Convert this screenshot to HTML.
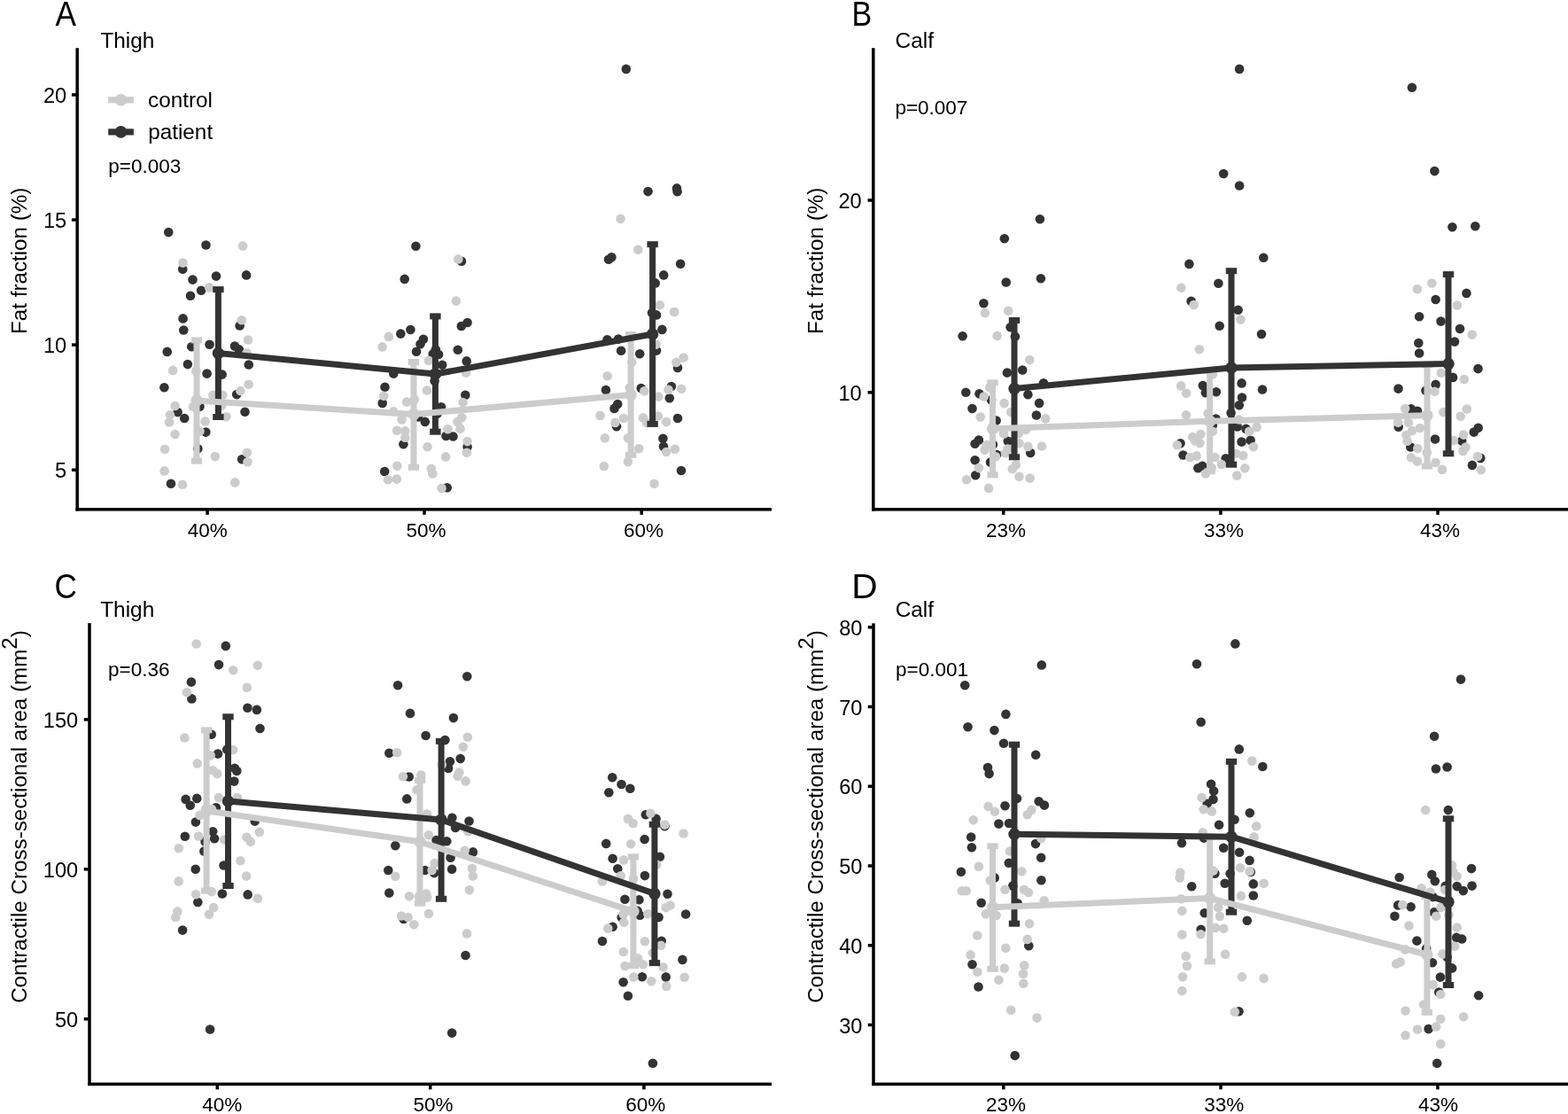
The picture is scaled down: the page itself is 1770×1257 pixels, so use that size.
<!DOCTYPE html>
<html><head><meta charset="utf-8"><title>Figure</title>
<style>
html,body{margin:0;padding:0;background:#fff;}
body{width:1770px;height:1257px;overflow:hidden;}
svg{display:block;}
text{font-family:'Liberation Sans', Arial, Helvetica, sans-serif;fill:#000;}
.xt{font-size:22.5px;text-anchor:middle;}
.yt{font-size:23.6px;text-anchor:end;}
.pl{font-size:39.5px;}
.st{font-size:24.4px;}
.pv{font-size:22.5px;}
.yl{font-size:24.2px;text-anchor:middle;}
.lg{font-size:24.3px;}
</style></head>
<body>
<svg width="1770" height="1257" viewBox="0 0 1770 1257">
<rect width="1770" height="1257" fill="#fff"/>
<g id="panelA">
<circle cx="190.25" cy="262.1" r="5.3" fill="#333333"/>
<circle cx="232.5" cy="276.5" r="5.3" fill="#333333"/>
<circle cx="206.25" cy="303.75" r="5.3" fill="#333333"/>
<circle cx="217.5" cy="315.6" r="5.3" fill="#333333"/>
<circle cx="244.0" cy="311.6" r="5.3" fill="#333333"/>
<circle cx="278.1" cy="310.4" r="5.3" fill="#333333"/>
<circle cx="227.1" cy="327.75" r="5.3" fill="#333333"/>
<circle cx="215.0" cy="333.75" r="5.3" fill="#333333"/>
<circle cx="206.6" cy="359.4" r="5.3" fill="#333333"/>
<circle cx="207.25" cy="372.5" r="5.3" fill="#333333"/>
<circle cx="270.6" cy="367.5" r="5.3" fill="#333333"/>
<circle cx="236.5" cy="388.75" r="5.3" fill="#333333"/>
<circle cx="265.0" cy="390.6" r="5.3" fill="#333333"/>
<circle cx="270.0" cy="394.4" r="5.3" fill="#333333"/>
<circle cx="188.75" cy="396.9" r="5.3" fill="#333333"/>
<circle cx="216.25" cy="391.25" r="5.3" fill="#333333"/>
<circle cx="211.9" cy="411.1" r="5.3" fill="#333333"/>
<circle cx="233.6" cy="421.6" r="5.3" fill="#333333"/>
<circle cx="250.6" cy="422.6" r="5.3" fill="#333333"/>
<circle cx="280.8" cy="411.5" r="5.3" fill="#333333"/>
<circle cx="185.4" cy="437.2" r="5.3" fill="#333333"/>
<circle cx="267.2" cy="445.1" r="5.3" fill="#333333"/>
<circle cx="225.5" cy="458.7" r="5.3" fill="#333333"/>
<circle cx="200.6" cy="465.1" r="5.3" fill="#333333"/>
<circle cx="208.2" cy="472.0" r="5.3" fill="#333333"/>
<circle cx="276.5" cy="464.8" r="5.3" fill="#333333"/>
<circle cx="232.3" cy="487.6" r="5.3" fill="#333333"/>
<circle cx="223.4" cy="506.3" r="5.3" fill="#333333"/>
<circle cx="273.1" cy="518.2" r="5.3" fill="#333333"/>
<circle cx="193.0" cy="545.7" r="5.3" fill="#333333"/>
<circle cx="469.4" cy="277.7" r="5.3" fill="#333333"/>
<circle cx="521.0" cy="294.8" r="5.3" fill="#333333"/>
<circle cx="456.7" cy="314.9" r="5.3" fill="#333333"/>
<circle cx="527.6" cy="364.0" r="5.3" fill="#333333"/>
<circle cx="520.8" cy="368.0" r="5.3" fill="#333333"/>
<circle cx="463.4" cy="372.0" r="5.3" fill="#333333"/>
<circle cx="452.3" cy="376.6" r="5.3" fill="#333333"/>
<circle cx="477.9" cy="382.8" r="5.3" fill="#333333"/>
<circle cx="474.5" cy="388.3" r="5.3" fill="#333333"/>
<circle cx="470.0" cy="396.7" r="5.3" fill="#333333"/>
<circle cx="491.8" cy="394.5" r="5.3" fill="#333333"/>
<circle cx="488.7" cy="399.4" r="5.3" fill="#333333"/>
<circle cx="495.1" cy="400.0" r="5.3" fill="#333333"/>
<circle cx="516.8" cy="394.7" r="5.3" fill="#333333"/>
<circle cx="526.7" cy="407.4" r="5.3" fill="#333333"/>
<circle cx="499.2" cy="411.7" r="5.3" fill="#333333"/>
<circle cx="444.3" cy="421.6" r="5.3" fill="#333333"/>
<circle cx="490.6" cy="429.7" r="5.3" fill="#333333"/>
<circle cx="434.5" cy="436.8" r="5.3" fill="#333333"/>
<circle cx="431.7" cy="454.9" r="5.3" fill="#333333"/>
<circle cx="525.3" cy="445.7" r="5.3" fill="#333333"/>
<circle cx="498.0" cy="459.3" r="5.3" fill="#333333"/>
<circle cx="493.6" cy="466.7" r="5.3" fill="#333333"/>
<circle cx="472.1" cy="470.4" r="5.3" fill="#333333"/>
<circle cx="479.8" cy="475.9" r="5.3" fill="#333333"/>
<circle cx="503.5" cy="491.9" r="5.3" fill="#333333"/>
<circle cx="511.5" cy="492.5" r="5.3" fill="#333333"/>
<circle cx="455.4" cy="501.2" r="5.3" fill="#333333"/>
<circle cx="527.6" cy="504.3" r="5.3" fill="#333333"/>
<circle cx="434.2" cy="532.0" r="5.3" fill="#333333"/>
<circle cx="504.7" cy="550.3" r="5.3" fill="#333333"/>
<circle cx="706.8" cy="77.9" r="5.3" fill="#333333"/>
<circle cx="731.5" cy="216.1" r="5.3" fill="#333333"/>
<circle cx="764.0" cy="212.4" r="5.3" fill="#333333"/>
<circle cx="764.6" cy="216.3" r="5.3" fill="#333333"/>
<circle cx="690.4" cy="290.3" r="5.3" fill="#333333"/>
<circle cx="687.0" cy="292.8" r="5.3" fill="#333333"/>
<circle cx="768.1" cy="297.7" r="5.3" fill="#333333"/>
<circle cx="749.2" cy="310.4" r="5.3" fill="#333333"/>
<circle cx="739.7" cy="319.4" r="5.3" fill="#333333"/>
<circle cx="736.0" cy="353.0" r="5.3" fill="#333333"/>
<circle cx="741.0" cy="355.4" r="5.3" fill="#333333"/>
<circle cx="747.4" cy="371.9" r="5.3" fill="#333333"/>
<circle cx="685.5" cy="383.2" r="5.3" fill="#333333"/>
<circle cx="698.1" cy="382.6" r="5.3" fill="#333333"/>
<circle cx="701.1" cy="395.8" r="5.3" fill="#333333"/>
<circle cx="722.2" cy="399.3" r="5.3" fill="#333333"/>
<circle cx="741.0" cy="395.6" r="5.3" fill="#333333"/>
<circle cx="765.0" cy="415.0" r="5.3" fill="#333333"/>
<circle cx="683.9" cy="440.0" r="5.3" fill="#333333"/>
<circle cx="723.7" cy="438.1" r="5.3" fill="#333333"/>
<circle cx="757.9" cy="436.0" r="5.3" fill="#333333"/>
<circle cx="755.8" cy="449.2" r="5.3" fill="#333333"/>
<circle cx="697.2" cy="456.0" r="5.3" fill="#333333"/>
<circle cx="693.5" cy="460.9" r="5.3" fill="#333333"/>
<circle cx="765.0" cy="472.0" r="5.3" fill="#333333"/>
<circle cx="696.0" cy="481.3" r="5.3" fill="#333333"/>
<circle cx="748.4" cy="494.8" r="5.3" fill="#333333"/>
<circle cx="749.0" cy="503.8" r="5.3" fill="#333333"/>
<circle cx="769.0" cy="531.0" r="5.3" fill="#333333"/>
<circle cx="274.1" cy="277.5" r="5.3" fill="#cccccc"/>
<circle cx="206.5" cy="296.6" r="5.3" fill="#cccccc"/>
<circle cx="236.25" cy="324.4" r="5.3" fill="#cccccc"/>
<circle cx="272.75" cy="361.25" r="5.3" fill="#cccccc"/>
<circle cx="280.0" cy="383.5" r="5.3" fill="#cccccc"/>
<circle cx="278.5" cy="398.2" r="5.3" fill="#cccccc"/>
<circle cx="195.2" cy="417.9" r="5.3" fill="#cccccc"/>
<circle cx="221.4" cy="418.6" r="5.3" fill="#cccccc"/>
<circle cx="280.6" cy="433.8" r="5.3" fill="#cccccc"/>
<circle cx="271.4" cy="441.0" r="5.3" fill="#cccccc"/>
<circle cx="240.4" cy="445.8" r="5.3" fill="#cccccc"/>
<circle cx="251.3" cy="445.8" r="5.3" fill="#cccccc"/>
<circle cx="218.0" cy="459.1" r="5.3" fill="#cccccc"/>
<circle cx="197.6" cy="458.0" r="5.3" fill="#cccccc"/>
<circle cx="250.0" cy="458.0" r="5.3" fill="#cccccc"/>
<circle cx="191.9" cy="468.2" r="5.3" fill="#cccccc"/>
<circle cx="191.1" cy="476.4" r="5.3" fill="#cccccc"/>
<circle cx="231.6" cy="475.4" r="5.3" fill="#cccccc"/>
<circle cx="255.4" cy="470.2" r="5.3" fill="#cccccc"/>
<circle cx="225.5" cy="486.6" r="5.3" fill="#cccccc"/>
<circle cx="197.6" cy="490.0" r="5.3" fill="#cccccc"/>
<circle cx="186.0" cy="506.7" r="5.3" fill="#cccccc"/>
<circle cx="242.8" cy="515.1" r="5.3" fill="#cccccc"/>
<circle cx="278.9" cy="510.8" r="5.3" fill="#cccccc"/>
<circle cx="279.5" cy="521.2" r="5.3" fill="#cccccc"/>
<circle cx="185.6" cy="531.4" r="5.3" fill="#cccccc"/>
<circle cx="206.0" cy="546.7" r="5.3" fill="#cccccc"/>
<circle cx="265.3" cy="544.4" r="5.3" fill="#cccccc"/>
<circle cx="517.3" cy="292.4" r="5.3" fill="#cccccc"/>
<circle cx="514.9" cy="339.6" r="5.3" fill="#cccccc"/>
<circle cx="438.8" cy="379.9" r="5.3" fill="#cccccc"/>
<circle cx="431.6" cy="391.4" r="5.3" fill="#cccccc"/>
<circle cx="483.8" cy="406.8" r="5.3" fill="#cccccc"/>
<circle cx="526.1" cy="420.4" r="5.3" fill="#cccccc"/>
<circle cx="481.9" cy="440.5" r="5.3" fill="#cccccc"/>
<circle cx="433.2" cy="446.7" r="5.3" fill="#cccccc"/>
<circle cx="459.1" cy="453.5" r="5.3" fill="#cccccc"/>
<circle cx="467.7" cy="450.6" r="5.3" fill="#cccccc"/>
<circle cx="444.1" cy="464.2" r="5.3" fill="#cccccc"/>
<circle cx="522.6" cy="454.1" r="5.3" fill="#cccccc"/>
<circle cx="453.6" cy="473.4" r="5.3" fill="#cccccc"/>
<circle cx="521.4" cy="471.0" r="5.3" fill="#cccccc"/>
<circle cx="516.5" cy="475.9" r="5.3" fill="#cccccc"/>
<circle cx="519.5" cy="483.7" r="5.3" fill="#cccccc"/>
<circle cx="448.0" cy="485.8" r="5.3" fill="#cccccc"/>
<circle cx="457.3" cy="486.4" r="5.3" fill="#cccccc"/>
<circle cx="457.3" cy="493.8" r="5.3" fill="#cccccc"/>
<circle cx="505.4" cy="484.2" r="5.3" fill="#cccccc"/>
<circle cx="527.6" cy="498.1" r="5.3" fill="#cccccc"/>
<circle cx="526.9" cy="510.7" r="5.3" fill="#cccccc"/>
<circle cx="482.5" cy="504.3" r="5.3" fill="#cccccc"/>
<circle cx="503.1" cy="515.4" r="5.3" fill="#cccccc"/>
<circle cx="448.3" cy="525.8" r="5.3" fill="#cccccc"/>
<circle cx="486.9" cy="528.9" r="5.3" fill="#cccccc"/>
<circle cx="488.3" cy="534.5" r="5.3" fill="#cccccc"/>
<circle cx="437.9" cy="541.3" r="5.3" fill="#cccccc"/>
<circle cx="447.8" cy="540.6" r="5.3" fill="#cccccc"/>
<circle cx="498.6" cy="550.9" r="5.3" fill="#cccccc"/>
<circle cx="700.5" cy="246.9" r="5.3" fill="#cccccc"/>
<circle cx="720.3" cy="281.8" r="5.3" fill="#cccccc"/>
<circle cx="744.9" cy="344.3" r="5.3" fill="#cccccc"/>
<circle cx="761.1" cy="352.1" r="5.3" fill="#cccccc"/>
<circle cx="740.4" cy="388.8" r="5.3" fill="#cccccc"/>
<circle cx="771.6" cy="403.6" r="5.3" fill="#cccccc"/>
<circle cx="763.4" cy="408.9" r="5.3" fill="#cccccc"/>
<circle cx="713.2" cy="408.5" r="5.3" fill="#cccccc"/>
<circle cx="685.7" cy="424.3" r="5.3" fill="#cccccc"/>
<circle cx="710.8" cy="437.5" r="5.3" fill="#cccccc"/>
<circle cx="727.4" cy="441.2" r="5.3" fill="#cccccc"/>
<circle cx="754.5" cy="439.7" r="5.3" fill="#cccccc"/>
<circle cx="769.1" cy="438.7" r="5.3" fill="#cccccc"/>
<circle cx="743.2" cy="447.6" r="5.3" fill="#cccccc"/>
<circle cx="677.5" cy="468.9" r="5.3" fill="#cccccc"/>
<circle cx="704.0" cy="472.0" r="5.3" fill="#cccccc"/>
<circle cx="694.4" cy="476.9" r="5.3" fill="#cccccc"/>
<circle cx="725.9" cy="471.4" r="5.3" fill="#cccccc"/>
<circle cx="729.9" cy="476.9" r="5.3" fill="#cccccc"/>
<circle cx="742.8" cy="469.5" r="5.3" fill="#cccccc"/>
<circle cx="752.1" cy="476.1" r="5.3" fill="#cccccc"/>
<circle cx="682.8" cy="494.2" r="5.3" fill="#cccccc"/>
<circle cx="708.9" cy="494.2" r="5.3" fill="#cccccc"/>
<circle cx="752.1" cy="510.0" r="5.3" fill="#cccccc"/>
<circle cx="761.9" cy="506.7" r="5.3" fill="#cccccc"/>
<circle cx="721.2" cy="506.3" r="5.3" fill="#cccccc"/>
<circle cx="708.9" cy="521.1" r="5.3" fill="#cccccc"/>
<circle cx="681.8" cy="526.0" r="5.3" fill="#cccccc"/>
<circle cx="738.5" cy="545.8" r="5.3" fill="#cccccc"/>
<rect x="242.90" y="326.60" width="7.0" height="143.90" fill="#333333"/>
<rect x="240.20" y="323.10" width="12.4" height="7.0" fill="#333333"/>
<rect x="240.20" y="467.00" width="12.4" height="7.0" fill="#333333"/>
<rect x="487.90" y="356.90" width="7.0" height="130.30" fill="#333333"/>
<rect x="485.20" y="353.40" width="12.4" height="7.0" fill="#333333"/>
<rect x="485.20" y="483.70" width="12.4" height="7.0" fill="#333333"/>
<rect x="733.10" y="275.70" width="7.0" height="202.70" fill="#333333"/>
<rect x="730.40" y="272.20" width="12.4" height="7.0" fill="#333333"/>
<rect x="730.40" y="474.90" width="12.4" height="7.0" fill="#333333"/>
<rect x="218.50" y="383.90" width="7.0" height="136.30" fill="#cccccc"/>
<rect x="215.80" y="380.40" width="12.4" height="7.0" fill="#cccccc"/>
<rect x="215.80" y="516.70" width="12.4" height="7.0" fill="#cccccc"/>
<rect x="463.50" y="408.50" width="7.0" height="118.80" fill="#cccccc"/>
<rect x="460.80" y="405.00" width="12.4" height="7.0" fill="#cccccc"/>
<rect x="460.80" y="523.80" width="12.4" height="7.0" fill="#cccccc"/>
<rect x="708.60" y="377.50" width="7.0" height="135.80" fill="#cccccc"/>
<rect x="705.90" y="374.00" width="12.4" height="7.0" fill="#cccccc"/>
<rect x="705.90" y="509.80" width="12.4" height="7.0" fill="#cccccc"/>
<polyline points="246.4,398.6 491.4,422.0 736.6,377.0" fill="none" stroke="#333333" stroke-width="7.0" stroke-linejoin="round"/>
<polyline points="222.0,452.0 467.0,467.6 712.1,445.4" fill="none" stroke="#cccccc" stroke-width="7.0" stroke-linejoin="round"/>
<circle cx="246.4" cy="398.6" r="6.7" fill="#333333"/>
<circle cx="491.4" cy="422.0" r="6.7" fill="#333333"/>
<circle cx="736.6" cy="377.0" r="6.7" fill="#333333"/>
<circle cx="222.0" cy="452.0" r="6.7" fill="#cccccc"/>
<circle cx="467.0" cy="467.6" r="6.7" fill="#cccccc"/>
<circle cx="712.1" cy="445.4" r="6.7" fill="#cccccc"/>
<rect x="85.45" y="54.2" width="3.5" height="522.35" fill="#000"/>
<rect x="85.45" y="573.05" width="785.55" height="3.5" fill="#000"/>
<rect x="232.35" y="574.80" width="3.5" height="6" fill="#000"/>
<text x="234.2" y="605.8" class="xt">40%</text>
<rect x="477.25" y="574.80" width="3.5" height="6" fill="#000"/>
<text x="481.1" y="605.8" class="xt">50%</text>
<rect x="722.45" y="574.80" width="3.5" height="6" fill="#000"/>
<text x="726.5" y="605.8" class="xt">60%</text>
<rect x="80.95" y="105.25" width="5" height="3.5" fill="#000"/>
<text x="75.2" y="116.0" class="yt">20</text>
<rect x="80.95" y="246.35" width="5" height="3.5" fill="#000"/>
<text x="75.2" y="257.1" class="yt">15</text>
<rect x="80.95" y="387.35" width="5" height="3.5" fill="#000"/>
<text x="75.2" y="398.1" class="yt">10</text>
<rect x="80.95" y="528.55" width="5" height="3.5" fill="#000"/>
<text x="75.2" y="539.3" class="yt">5</text>
</g>
<g id="panelB">
<circle cx="1173.9" cy="247.3" r="5.3" fill="#333333"/>
<circle cx="1133.8" cy="269.2" r="5.3" fill="#333333"/>
<circle cx="1135.7" cy="318.5" r="5.3" fill="#333333"/>
<circle cx="1174.9" cy="314.2" r="5.3" fill="#333333"/>
<circle cx="1110.4" cy="342.2" r="5.3" fill="#333333"/>
<circle cx="1140.6" cy="369.3" r="5.3" fill="#333333"/>
<circle cx="1145.9" cy="379.8" r="5.3" fill="#333333"/>
<circle cx="1086.6" cy="379.2" r="5.3" fill="#333333"/>
<circle cx="1136.9" cy="420.6" r="5.3" fill="#333333"/>
<circle cx="1154.2" cy="417.5" r="5.3" fill="#333333"/>
<circle cx="1178.0" cy="432.3" r="5.3" fill="#333333"/>
<circle cx="1090.3" cy="442.8" r="5.3" fill="#333333"/>
<circle cx="1105.5" cy="444.3" r="5.3" fill="#333333"/>
<circle cx="1119.0" cy="451.2" r="5.3" fill="#333333"/>
<circle cx="1160.4" cy="445.3" r="5.3" fill="#333333"/>
<circle cx="1173.1" cy="454.9" r="5.3" fill="#333333"/>
<circle cx="1097.5" cy="461.0" r="5.3" fill="#333333"/>
<circle cx="1169.9" cy="468.5" r="5.3" fill="#333333"/>
<circle cx="1124.6" cy="474.6" r="5.3" fill="#333333"/>
<circle cx="1104.9" cy="496.5" r="5.3" fill="#333333"/>
<circle cx="1100.6" cy="500.8" r="5.3" fill="#333333"/>
<circle cx="1137.8" cy="497.7" r="5.3" fill="#333333"/>
<circle cx="1120.9" cy="501.6" r="5.3" fill="#333333"/>
<circle cx="1163.2" cy="511.0" r="5.3" fill="#333333"/>
<circle cx="1125.2" cy="513.1" r="5.3" fill="#333333"/>
<circle cx="1100.6" cy="519.3" r="5.3" fill="#333333"/>
<circle cx="1118.0" cy="521.6" r="5.3" fill="#333333"/>
<circle cx="1101.2" cy="536.3" r="5.3" fill="#333333"/>
<circle cx="1399.1" cy="77.9" r="5.3" fill="#333333"/>
<circle cx="1381.2" cy="196.0" r="5.3" fill="#333333"/>
<circle cx="1399.1" cy="209.5" r="5.3" fill="#333333"/>
<circle cx="1342.4" cy="297.9" r="5.3" fill="#333333"/>
<circle cx="1426.3" cy="290.8" r="5.3" fill="#333333"/>
<circle cx="1375.4" cy="319.7" r="5.3" fill="#333333"/>
<circle cx="1344.6" cy="339.8" r="5.3" fill="#333333"/>
<circle cx="1397.6" cy="349.7" r="5.3" fill="#333333"/>
<circle cx="1376.7" cy="367.7" r="5.3" fill="#333333"/>
<circle cx="1424.0" cy="377.0" r="5.3" fill="#333333"/>
<circle cx="1357.8" cy="435.1" r="5.3" fill="#333333"/>
<circle cx="1360.9" cy="443.2" r="5.3" fill="#333333"/>
<circle cx="1372.9" cy="442.3" r="5.3" fill="#333333"/>
<circle cx="1401.6" cy="432.4" r="5.3" fill="#333333"/>
<circle cx="1425.0" cy="439.5" r="5.3" fill="#333333"/>
<circle cx="1402.0" cy="448.5" r="5.3" fill="#333333"/>
<circle cx="1398.8" cy="457.3" r="5.3" fill="#333333"/>
<circle cx="1389.6" cy="465.9" r="5.3" fill="#333333"/>
<circle cx="1372.5" cy="472.5" r="5.3" fill="#333333"/>
<circle cx="1368.9" cy="479.8" r="5.3" fill="#333333"/>
<circle cx="1396.7" cy="481.4" r="5.3" fill="#333333"/>
<circle cx="1406.5" cy="483.9" r="5.3" fill="#333333"/>
<circle cx="1332.5" cy="500.2" r="5.3" fill="#333333"/>
<circle cx="1401.6" cy="498.6" r="5.3" fill="#333333"/>
<circle cx="1411.6" cy="496.8" r="5.3" fill="#333333"/>
<circle cx="1335.6" cy="513.5" r="5.3" fill="#333333"/>
<circle cx="1383.7" cy="517.2" r="5.3" fill="#333333"/>
<circle cx="1352.3" cy="528.3" r="5.3" fill="#333333"/>
<circle cx="1357.2" cy="525.8" r="5.3" fill="#333333"/>
<circle cx="1593.9" cy="98.8" r="5.3" fill="#333333"/>
<circle cx="1619.4" cy="193.1" r="5.3" fill="#333333"/>
<circle cx="1639.4" cy="256.2" r="5.3" fill="#333333"/>
<circle cx="1665.3" cy="255.3" r="5.3" fill="#333333"/>
<circle cx="1655.4" cy="330.9" r="5.3" fill="#333333"/>
<circle cx="1620.6" cy="338.0" r="5.3" fill="#333333"/>
<circle cx="1602.1" cy="357.3" r="5.3" fill="#333333"/>
<circle cx="1626.5" cy="362.6" r="5.3" fill="#333333"/>
<circle cx="1648.0" cy="371.0" r="5.3" fill="#333333"/>
<circle cx="1601.3" cy="387.1" r="5.3" fill="#333333"/>
<circle cx="1642.0" cy="385.6" r="5.3" fill="#333333"/>
<circle cx="1602.1" cy="398.5" r="5.3" fill="#333333"/>
<circle cx="1668.5" cy="416.1" r="5.3" fill="#333333"/>
<circle cx="1640.1" cy="425.9" r="5.3" fill="#333333"/>
<circle cx="1620.6" cy="433.9" r="5.3" fill="#333333"/>
<circle cx="1578.5" cy="438.6" r="5.3" fill="#333333"/>
<circle cx="1609.5" cy="440.7" r="5.3" fill="#333333"/>
<circle cx="1592.9" cy="461.4" r="5.3" fill="#333333"/>
<circle cx="1600.0" cy="463.8" r="5.3" fill="#333333"/>
<circle cx="1578.7" cy="481.7" r="5.3" fill="#333333"/>
<circle cx="1668.7" cy="482.7" r="5.3" fill="#333333"/>
<circle cx="1663.8" cy="487.6" r="5.3" fill="#333333"/>
<circle cx="1620.0" cy="495.5" r="5.3" fill="#333333"/>
<circle cx="1650.2" cy="497.5" r="5.3" fill="#333333"/>
<circle cx="1592.3" cy="504.5" r="5.3" fill="#333333"/>
<circle cx="1671.2" cy="516.9" r="5.3" fill="#333333"/>
<circle cx="1661.9" cy="524.9" r="5.3" fill="#333333"/>
<circle cx="1111.9" cy="353.3" r="5.3" fill="#cccccc"/>
<circle cx="1138.2" cy="350.8" r="5.3" fill="#cccccc"/>
<circle cx="1125.6" cy="379.0" r="5.3" fill="#cccccc"/>
<circle cx="1162.2" cy="406.1" r="5.3" fill="#cccccc"/>
<circle cx="1117.2" cy="437.3" r="5.3" fill="#cccccc"/>
<circle cx="1110.7" cy="447.5" r="5.3" fill="#cccccc"/>
<circle cx="1133.6" cy="455.1" r="5.3" fill="#cccccc"/>
<circle cx="1141.2" cy="465.0" r="5.3" fill="#cccccc"/>
<circle cx="1106.7" cy="470.6" r="5.3" fill="#cccccc"/>
<circle cx="1180.1" cy="472.4" r="5.3" fill="#cccccc"/>
<circle cx="1133.2" cy="489.4" r="5.3" fill="#cccccc"/>
<circle cx="1149.9" cy="489.1" r="5.3" fill="#cccccc"/>
<circle cx="1158.2" cy="484.8" r="5.3" fill="#cccccc"/>
<circle cx="1150.5" cy="500.2" r="5.3" fill="#cccccc"/>
<circle cx="1160.4" cy="503.9" r="5.3" fill="#cccccc"/>
<circle cx="1176.0" cy="503.5" r="5.3" fill="#cccccc"/>
<circle cx="1114.1" cy="502.0" r="5.3" fill="#cccccc"/>
<circle cx="1111.5" cy="507.7" r="5.3" fill="#cccccc"/>
<circle cx="1135.1" cy="511.3" r="5.3" fill="#cccccc"/>
<circle cx="1137.5" cy="506.5" r="5.3" fill="#cccccc"/>
<circle cx="1124.0" cy="515.2" r="5.3" fill="#cccccc"/>
<circle cx="1104.9" cy="528.0" r="5.3" fill="#cccccc"/>
<circle cx="1146.8" cy="524.4" r="5.3" fill="#cccccc"/>
<circle cx="1142.8" cy="529.3" r="5.3" fill="#cccccc"/>
<circle cx="1091.1" cy="541.2" r="5.3" fill="#cccccc"/>
<circle cx="1150.5" cy="537.8" r="5.3" fill="#cccccc"/>
<circle cx="1162.6" cy="539.6" r="5.3" fill="#cccccc"/>
<circle cx="1116.0" cy="550.9" r="5.3" fill="#cccccc"/>
<circle cx="1333.4" cy="324.7" r="5.3" fill="#cccccc"/>
<circle cx="1347.7" cy="344.0" r="5.3" fill="#cccccc"/>
<circle cx="1400.4" cy="360.6" r="5.3" fill="#cccccc"/>
<circle cx="1353.9" cy="394.2" r="5.3" fill="#cccccc"/>
<circle cx="1368.9" cy="422.2" r="5.3" fill="#cccccc"/>
<circle cx="1333.2" cy="435.4" r="5.3" fill="#cccccc"/>
<circle cx="1339.1" cy="443.8" r="5.3" fill="#cccccc"/>
<circle cx="1339.0" cy="468.3" r="5.3" fill="#cccccc"/>
<circle cx="1363.7" cy="466.6" r="5.3" fill="#cccccc"/>
<circle cx="1398.5" cy="473.5" r="5.3" fill="#cccccc"/>
<circle cx="1418.6" cy="481.9" r="5.3" fill="#cccccc"/>
<circle cx="1410.2" cy="486.7" r="5.3" fill="#cccccc"/>
<circle cx="1368.9" cy="486.7" r="5.3" fill="#cccccc"/>
<circle cx="1346.1" cy="493.1" r="5.3" fill="#cccccc"/>
<circle cx="1355.4" cy="490.0" r="5.3" fill="#cccccc"/>
<circle cx="1354.4" cy="499.9" r="5.3" fill="#cccccc"/>
<circle cx="1349.2" cy="497.5" r="5.3" fill="#cccccc"/>
<circle cx="1328.8" cy="502.3" r="5.3" fill="#cccccc"/>
<circle cx="1414.9" cy="504.2" r="5.3" fill="#cccccc"/>
<circle cx="1343.3" cy="516.0" r="5.3" fill="#cccccc"/>
<circle cx="1350.7" cy="514.4" r="5.3" fill="#cccccc"/>
<circle cx="1371.4" cy="516.0" r="5.3" fill="#cccccc"/>
<circle cx="1395.4" cy="511.7" r="5.3" fill="#cccccc"/>
<circle cx="1403.2" cy="514.1" r="5.3" fill="#cccccc"/>
<circle cx="1378.8" cy="524.0" r="5.3" fill="#cccccc"/>
<circle cx="1367.7" cy="527.7" r="5.3" fill="#cccccc"/>
<circle cx="1360.9" cy="534.5" r="5.3" fill="#cccccc"/>
<circle cx="1405.3" cy="528.3" r="5.3" fill="#cccccc"/>
<circle cx="1396.3" cy="536.6" r="5.3" fill="#cccccc"/>
<circle cx="1616.3" cy="319.5" r="5.3" fill="#cccccc"/>
<circle cx="1599.9" cy="326.2" r="5.3" fill="#cccccc"/>
<circle cx="1644.9" cy="344.5" r="5.3" fill="#cccccc"/>
<circle cx="1661.7" cy="377.5" r="5.3" fill="#cccccc"/>
<circle cx="1626.8" cy="420.7" r="5.3" fill="#cccccc"/>
<circle cx="1652.7" cy="428.1" r="5.3" fill="#cccccc"/>
<circle cx="1619.4" cy="441.7" r="5.3" fill="#cccccc"/>
<circle cx="1586.1" cy="461.0" r="5.3" fill="#cccccc"/>
<circle cx="1655.8" cy="461.6" r="5.3" fill="#cccccc"/>
<circle cx="1629.3" cy="465.1" r="5.3" fill="#cccccc"/>
<circle cx="1648.7" cy="469.8" r="5.3" fill="#cccccc"/>
<circle cx="1578.1" cy="476.8" r="5.3" fill="#cccccc"/>
<circle cx="1589.8" cy="476.8" r="5.3" fill="#cccccc"/>
<circle cx="1602.8" cy="483.0" r="5.3" fill="#cccccc"/>
<circle cx="1594.1" cy="486.0" r="5.3" fill="#cccccc"/>
<circle cx="1587.3" cy="491.0" r="5.3" fill="#cccccc"/>
<circle cx="1588.6" cy="497.8" r="5.3" fill="#cccccc"/>
<circle cx="1652.1" cy="490.6" r="5.3" fill="#cccccc"/>
<circle cx="1641.0" cy="497.1" r="5.3" fill="#cccccc"/>
<circle cx="1654.5" cy="504.5" r="5.3" fill="#cccccc"/>
<circle cx="1651.5" cy="508.9" r="5.3" fill="#cccccc"/>
<circle cx="1600.3" cy="506.0" r="5.3" fill="#cccccc"/>
<circle cx="1610.8" cy="510.7" r="5.3" fill="#cccccc"/>
<circle cx="1592.9" cy="516.3" r="5.3" fill="#cccccc"/>
<circle cx="1600.0" cy="520.6" r="5.3" fill="#cccccc"/>
<circle cx="1620.6" cy="522.0" r="5.3" fill="#cccccc"/>
<circle cx="1628.0" cy="529.9" r="5.3" fill="#cccccc"/>
<circle cx="1668.1" cy="515.0" r="5.3" fill="#cccccc"/>
<circle cx="1671.8" cy="530.2" r="5.3" fill="#cccccc"/>
<rect x="1141.50" y="361.50" width="7.0" height="154.30" fill="#333333"/>
<rect x="1138.80" y="358.00" width="12.4" height="7.0" fill="#333333"/>
<rect x="1138.80" y="512.30" width="12.4" height="7.0" fill="#333333"/>
<rect x="1386.50" y="305.70" width="7.0" height="218.50" fill="#333333"/>
<rect x="1383.80" y="302.20" width="12.4" height="7.0" fill="#333333"/>
<rect x="1383.80" y="520.70" width="12.4" height="7.0" fill="#333333"/>
<rect x="1631.50" y="309.60" width="7.0" height="202.20" fill="#333333"/>
<rect x="1628.80" y="306.10" width="12.4" height="7.0" fill="#333333"/>
<rect x="1628.80" y="508.30" width="12.4" height="7.0" fill="#333333"/>
<rect x="1117.00" y="431.80" width="7.0" height="104.10" fill="#cccccc"/>
<rect x="1114.30" y="428.30" width="12.4" height="7.0" fill="#cccccc"/>
<rect x="1114.30" y="532.40" width="12.4" height="7.0" fill="#cccccc"/>
<rect x="1362.20" y="418.60" width="7.0" height="113.20" fill="#cccccc"/>
<rect x="1359.50" y="415.10" width="12.4" height="7.0" fill="#cccccc"/>
<rect x="1359.50" y="528.30" width="12.4" height="7.0" fill="#cccccc"/>
<rect x="1607.50" y="411.50" width="7.0" height="114.60" fill="#cccccc"/>
<rect x="1604.80" y="408.00" width="12.4" height="7.0" fill="#cccccc"/>
<rect x="1604.80" y="522.60" width="12.4" height="7.0" fill="#cccccc"/>
<polyline points="1145.0,438.6 1390.0,414.9 1635.0,410.5" fill="none" stroke="#333333" stroke-width="7.0" stroke-linejoin="round"/>
<polyline points="1120.5,483.8 1365.7,475.2 1611.0,468.8" fill="none" stroke="#cccccc" stroke-width="7.0" stroke-linejoin="round"/>
<circle cx="1145.0" cy="438.6" r="6.7" fill="#333333"/>
<circle cx="1390.0" cy="414.9" r="6.7" fill="#333333"/>
<circle cx="1635.0" cy="410.5" r="6.7" fill="#333333"/>
<circle cx="1120.5" cy="483.8" r="6.7" fill="#cccccc"/>
<circle cx="1365.7" cy="475.2" r="6.7" fill="#cccccc"/>
<circle cx="1611.0" cy="468.8" r="6.7" fill="#cccccc"/>
<rect x="984.05" y="54.2" width="3.5" height="522.35" fill="#000"/>
<rect x="984.05" y="573.05" width="785.95" height="3.5" fill="#000"/>
<rect x="1130.95" y="574.80" width="3.5" height="6" fill="#000"/>
<text x="1135.6" y="605.8" class="xt">23%</text>
<rect x="1376.15" y="574.80" width="3.5" height="6" fill="#000"/>
<text x="1381.6" y="605.8" class="xt">33%</text>
<rect x="1621.25" y="574.80" width="3.5" height="6" fill="#000"/>
<text x="1625.6" y="605.8" class="xt">43%</text>
<rect x="979.55" y="224.25" width="5" height="3.5" fill="#000"/>
<text x="972.7" y="235.0" class="yt">20</text>
<rect x="979.55" y="441.05" width="5" height="3.5" fill="#000"/>
<text x="972.7" y="451.8" class="yt">10</text>
</g>
<g id="panelC">
<circle cx="254.8" cy="728.9" r="5.3" fill="#333333"/>
<circle cx="247.0" cy="750.1" r="5.3" fill="#333333"/>
<circle cx="215.9" cy="769.6" r="5.3" fill="#333333"/>
<circle cx="216.4" cy="788.4" r="5.3" fill="#333333"/>
<circle cx="279.4" cy="798.8" r="5.3" fill="#333333"/>
<circle cx="289.9" cy="800.9" r="5.3" fill="#333333"/>
<circle cx="293.5" cy="822.0" r="5.3" fill="#333333"/>
<circle cx="238.7" cy="828.7" r="5.3" fill="#333333"/>
<circle cx="256.2" cy="845.7" r="5.3" fill="#333333"/>
<circle cx="246.0" cy="850.6" r="5.3" fill="#333333"/>
<circle cx="264.9" cy="866.8" r="5.3" fill="#333333"/>
<circle cx="267.3" cy="869.9" r="5.3" fill="#333333"/>
<circle cx="264.3" cy="881.6" r="5.3" fill="#333333"/>
<circle cx="209.6" cy="901.9" r="5.3" fill="#333333"/>
<circle cx="222.3" cy="900.9" r="5.3" fill="#333333"/>
<circle cx="214.7" cy="908.7" r="5.3" fill="#333333"/>
<circle cx="243.9" cy="911.2" r="5.3" fill="#333333"/>
<circle cx="220.9" cy="927.6" r="5.3" fill="#333333"/>
<circle cx="287.7" cy="926.6" r="5.3" fill="#333333"/>
<circle cx="240.2" cy="938.3" r="5.3" fill="#333333"/>
<circle cx="242.1" cy="946.3" r="5.3" fill="#333333"/>
<circle cx="208.8" cy="943.8" r="5.3" fill="#333333"/>
<circle cx="231.6" cy="949.4" r="5.3" fill="#333333"/>
<circle cx="230.4" cy="960.5" r="5.3" fill="#333333"/>
<circle cx="252.5" cy="976.5" r="5.3" fill="#333333"/>
<circle cx="220.7" cy="980.8" r="5.3" fill="#333333"/>
<circle cx="250.9" cy="1008.5" r="5.3" fill="#333333"/>
<circle cx="279.7" cy="1009.4" r="5.3" fill="#333333"/>
<circle cx="223.3" cy="1018.0" r="5.3" fill="#333333"/>
<circle cx="206.1" cy="1049.6" r="5.3" fill="#333333"/>
<circle cx="237.1" cy="1161.5" r="5.3" fill="#333333"/>
<circle cx="527.3" cy="763.3" r="5.3" fill="#333333"/>
<circle cx="449.1" cy="773.2" r="5.3" fill="#333333"/>
<circle cx="463.0" cy="804.9" r="5.3" fill="#333333"/>
<circle cx="511.9" cy="810.1" r="5.3" fill="#333333"/>
<circle cx="480.6" cy="830.0" r="5.3" fill="#333333"/>
<circle cx="502.4" cy="835.1" r="5.3" fill="#333333"/>
<circle cx="439.3" cy="849.7" r="5.3" fill="#333333"/>
<circle cx="519.7" cy="856.1" r="5.3" fill="#333333"/>
<circle cx="508.0" cy="859.2" r="5.3" fill="#333333"/>
<circle cx="506.1" cy="867.0" r="5.3" fill="#333333"/>
<circle cx="461.7" cy="876.5" r="5.3" fill="#333333"/>
<circle cx="459.3" cy="901.4" r="5.3" fill="#333333"/>
<circle cx="510.4" cy="922.8" r="5.3" fill="#333333"/>
<circle cx="529.5" cy="926.5" r="5.3" fill="#333333"/>
<circle cx="514.1" cy="933.9" r="5.3" fill="#333333"/>
<circle cx="492.5" cy="948.1" r="5.3" fill="#333333"/>
<circle cx="504.3" cy="949.3" r="5.3" fill="#333333"/>
<circle cx="446.3" cy="954.3" r="5.3" fill="#333333"/>
<circle cx="533.9" cy="961.4" r="5.3" fill="#333333"/>
<circle cx="508.6" cy="967.8" r="5.3" fill="#333333"/>
<circle cx="438.3" cy="982.0" r="5.3" fill="#333333"/>
<circle cx="479.6" cy="982.0" r="5.3" fill="#333333"/>
<circle cx="490.1" cy="985.1" r="5.3" fill="#333333"/>
<circle cx="510.1" cy="980.8" r="5.3" fill="#333333"/>
<circle cx="439.3" cy="1007.6" r="5.3" fill="#333333"/>
<circle cx="455.6" cy="1036.9" r="5.3" fill="#333333"/>
<circle cx="525.5" cy="1078.0" r="5.3" fill="#333333"/>
<circle cx="510.2" cy="1165.6" r="5.3" fill="#333333"/>
<circle cx="691.2" cy="877.3" r="5.3" fill="#333333"/>
<circle cx="701.5" cy="885.0" r="5.3" fill="#333333"/>
<circle cx="711.3" cy="889.7" r="5.3" fill="#333333"/>
<circle cx="687.3" cy="894.3" r="5.3" fill="#333333"/>
<circle cx="728.8" cy="919.3" r="5.3" fill="#333333"/>
<circle cx="740.6" cy="923.9" r="5.3" fill="#333333"/>
<circle cx="750.4" cy="932.2" r="5.3" fill="#333333"/>
<circle cx="684.2" cy="951.9" r="5.3" fill="#333333"/>
<circle cx="727.6" cy="947.0" r="5.3" fill="#333333"/>
<circle cx="691.6" cy="968.8" r="5.3" fill="#333333"/>
<circle cx="744.9" cy="966.7" r="5.3" fill="#333333"/>
<circle cx="697.2" cy="980.3" r="5.3" fill="#333333"/>
<circle cx="727.9" cy="988.1" r="5.3" fill="#333333"/>
<circle cx="753.5" cy="1008.7" r="5.3" fill="#333333"/>
<circle cx="705.4" cy="1014.8" r="5.3" fill="#333333"/>
<circle cx="721.4" cy="1015.3" r="5.3" fill="#333333"/>
<circle cx="719.6" cy="1027.8" r="5.3" fill="#333333"/>
<circle cx="722.4" cy="1032.7" r="5.3" fill="#333333"/>
<circle cx="701.7" cy="1035.2" r="5.3" fill="#333333"/>
<circle cx="691.6" cy="1045.7" r="5.3" fill="#333333"/>
<circle cx="743.6" cy="1035.0" r="5.3" fill="#333333"/>
<circle cx="774.1" cy="1031.5" r="5.3" fill="#333333"/>
<circle cx="679.9" cy="1062.0" r="5.3" fill="#333333"/>
<circle cx="746.7" cy="1061.7" r="5.3" fill="#333333"/>
<circle cx="770.4" cy="1082.9" r="5.3" fill="#333333"/>
<circle cx="724.9" cy="1102.2" r="5.3" fill="#333333"/>
<circle cx="751.7" cy="1102.4" r="5.3" fill="#333333"/>
<circle cx="703.6" cy="1108.2" r="5.3" fill="#333333"/>
<circle cx="708.9" cy="1123.7" r="5.3" fill="#333333"/>
<circle cx="736.9" cy="1199.7" r="5.3" fill="#333333"/>
<circle cx="221.7" cy="726.5" r="5.3" fill="#cccccc"/>
<circle cx="263.3" cy="756.3" r="5.3" fill="#cccccc"/>
<circle cx="290.8" cy="750.8" r="5.3" fill="#cccccc"/>
<circle cx="210.9" cy="781.2" r="5.3" fill="#cccccc"/>
<circle cx="278.8" cy="775.8" r="5.3" fill="#cccccc"/>
<circle cx="208.4" cy="832.5" r="5.3" fill="#cccccc"/>
<circle cx="263.0" cy="846.0" r="5.3" fill="#cccccc"/>
<circle cx="237.7" cy="852.5" r="5.3" fill="#cccccc"/>
<circle cx="222.7" cy="861.4" r="5.3" fill="#cccccc"/>
<circle cx="240.2" cy="869.2" r="5.3" fill="#cccccc"/>
<circle cx="245.1" cy="872.9" r="5.3" fill="#cccccc"/>
<circle cx="247.0" cy="900.1" r="5.3" fill="#cccccc"/>
<circle cx="268.0" cy="900.1" r="5.3" fill="#cccccc"/>
<circle cx="232.2" cy="913.0" r="5.3" fill="#cccccc"/>
<circle cx="239.0" cy="913.0" r="5.3" fill="#cccccc"/>
<circle cx="225.4" cy="920.0" r="5.3" fill="#cccccc"/>
<circle cx="292.9" cy="938.9" r="5.3" fill="#cccccc"/>
<circle cx="278.4" cy="944.8" r="5.3" fill="#cccccc"/>
<circle cx="282.8" cy="949.8" r="5.3" fill="#cccccc"/>
<circle cx="224.2" cy="943.5" r="5.3" fill="#cccccc"/>
<circle cx="253.2" cy="947.5" r="5.3" fill="#cccccc"/>
<circle cx="201.7" cy="957.2" r="5.3" fill="#cccccc"/>
<circle cx="271.4" cy="971.3" r="5.3" fill="#cccccc"/>
<circle cx="278.1" cy="988.6" r="5.3" fill="#cccccc"/>
<circle cx="201.6" cy="994.4" r="5.3" fill="#cccccc"/>
<circle cx="238.7" cy="1006.0" r="5.3" fill="#cccccc"/>
<circle cx="221.1" cy="1009.2" r="5.3" fill="#cccccc"/>
<circle cx="291.0" cy="1013.7" r="5.3" fill="#cccccc"/>
<circle cx="241.1" cy="1024.1" r="5.3" fill="#cccccc"/>
<circle cx="235.9" cy="1031.8" r="5.3" fill="#cccccc"/>
<circle cx="200.4" cy="1028.4" r="5.3" fill="#cccccc"/>
<circle cx="198.3" cy="1035.0" r="5.3" fill="#cccccc"/>
<circle cx="527.9" cy="831.7" r="5.3" fill="#cccccc"/>
<circle cx="522.8" cy="842.8" r="5.3" fill="#cccccc"/>
<circle cx="448.2" cy="849.3" r="5.3" fill="#cccccc"/>
<circle cx="498.7" cy="862.9" r="5.3" fill="#cccccc"/>
<circle cx="454.9" cy="876.2" r="5.3" fill="#cccccc"/>
<circle cx="475.3" cy="874.6" r="5.3" fill="#cccccc"/>
<circle cx="518.4" cy="871.5" r="5.3" fill="#cccccc"/>
<circle cx="516.6" cy="875.8" r="5.3" fill="#cccccc"/>
<circle cx="525.6" cy="881.4" r="5.3" fill="#cccccc"/>
<circle cx="470.4" cy="891.3" r="5.3" fill="#cccccc"/>
<circle cx="482.1" cy="918.5" r="5.3" fill="#cccccc"/>
<circle cx="528.3" cy="938.2" r="5.3" fill="#cccccc"/>
<circle cx="483.9" cy="942.3" r="5.3" fill="#cccccc"/>
<circle cx="524.6" cy="959.8" r="5.3" fill="#cccccc"/>
<circle cx="490.7" cy="974.0" r="5.3" fill="#cccccc"/>
<circle cx="487.6" cy="982.0" r="5.3" fill="#cccccc"/>
<circle cx="532.9" cy="979.9" r="5.3" fill="#cccccc"/>
<circle cx="533.9" cy="988.5" r="5.3" fill="#cccccc"/>
<circle cx="446.3" cy="988.8" r="5.3" fill="#cccccc"/>
<circle cx="529.8" cy="1004.2" r="5.3" fill="#cccccc"/>
<circle cx="462.0" cy="1011.3" r="5.3" fill="#cccccc"/>
<circle cx="481.2" cy="1008.5" r="5.3" fill="#cccccc"/>
<circle cx="482.1" cy="1012.8" r="5.3" fill="#cccccc"/>
<circle cx="472.8" cy="1011.6" r="5.3" fill="#cccccc"/>
<circle cx="483.9" cy="1031.0" r="5.3" fill="#cccccc"/>
<circle cx="453.1" cy="1033.5" r="5.3" fill="#cccccc"/>
<circle cx="460.5" cy="1035.0" r="5.3" fill="#cccccc"/>
<circle cx="467.3" cy="1043.3" r="5.3" fill="#cccccc"/>
<circle cx="527.0" cy="1053.4" r="5.3" fill="#cccccc"/>
<circle cx="734.4" cy="917.8" r="5.3" fill="#cccccc"/>
<circle cx="708.9" cy="923.9" r="5.3" fill="#cccccc"/>
<circle cx="714.7" cy="929.1" r="5.3" fill="#cccccc"/>
<circle cx="750.4" cy="930.6" r="5.3" fill="#cccccc"/>
<circle cx="771.6" cy="940.5" r="5.3" fill="#cccccc"/>
<circle cx="712.2" cy="952.3" r="5.3" fill="#cccccc"/>
<circle cx="703.9" cy="970.4" r="5.3" fill="#cccccc"/>
<circle cx="741.2" cy="975.4" r="5.3" fill="#cccccc"/>
<circle cx="700.7" cy="988.3" r="5.3" fill="#cccccc"/>
<circle cx="715.0" cy="991.4" r="5.3" fill="#cccccc"/>
<circle cx="679.9" cy="994.5" r="5.3" fill="#cccccc"/>
<circle cx="756.6" cy="1021.6" r="5.3" fill="#cccccc"/>
<circle cx="751.7" cy="1024.1" r="5.3" fill="#cccccc"/>
<circle cx="731.3" cy="1031.3" r="5.3" fill="#cccccc"/>
<circle cx="703.6" cy="1031.5" r="5.3" fill="#cccccc"/>
<circle cx="704.2" cy="1040.8" r="5.3" fill="#cccccc"/>
<circle cx="686.3" cy="1047.5" r="5.3" fill="#cccccc"/>
<circle cx="727.9" cy="1062.3" r="5.3" fill="#cccccc"/>
<circle cx="746.1" cy="1066.7" r="5.3" fill="#cccccc"/>
<circle cx="736.9" cy="1075.3" r="5.3" fill="#cccccc"/>
<circle cx="703.8" cy="1074.0" r="5.3" fill="#cccccc"/>
<circle cx="720.2" cy="1081.4" r="5.3" fill="#cccccc"/>
<circle cx="725.8" cy="1088.2" r="5.3" fill="#cccccc"/>
<circle cx="705.4" cy="1090.1" r="5.3" fill="#cccccc"/>
<circle cx="748.6" cy="1091.3" r="5.3" fill="#cccccc"/>
<circle cx="715.3" cy="1102.4" r="5.3" fill="#cccccc"/>
<circle cx="735.3" cy="1107.3" r="5.3" fill="#cccccc"/>
<circle cx="772.6" cy="1102.8" r="5.3" fill="#cccccc"/>
<circle cx="752.3" cy="1112.9" r="5.3" fill="#cccccc"/>
<rect x="254.00" y="808.80" width="7.0" height="190.70" fill="#333333"/>
<rect x="251.30" y="805.30" width="12.4" height="7.0" fill="#333333"/>
<rect x="251.30" y="996.00" width="12.4" height="7.0" fill="#333333"/>
<rect x="494.60" y="836.40" width="7.0" height="177.90" fill="#333333"/>
<rect x="491.90" y="832.90" width="12.4" height="7.0" fill="#333333"/>
<rect x="491.90" y="1010.80" width="12.4" height="7.0" fill="#333333"/>
<rect x="735.40" y="930.20" width="7.0" height="156.40" fill="#333333"/>
<rect x="732.70" y="926.70" width="12.4" height="7.0" fill="#333333"/>
<rect x="732.70" y="1083.10" width="12.4" height="7.0" fill="#333333"/>
<rect x="229.60" y="823.90" width="7.0" height="181.20" fill="#cccccc"/>
<rect x="226.90" y="820.40" width="12.4" height="7.0" fill="#cccccc"/>
<rect x="226.90" y="1001.60" width="12.4" height="7.0" fill="#cccccc"/>
<rect x="470.50" y="880.50" width="7.0" height="138.70" fill="#cccccc"/>
<rect x="467.80" y="877.00" width="12.4" height="7.0" fill="#cccccc"/>
<rect x="467.80" y="1015.70" width="12.4" height="7.0" fill="#cccccc"/>
<rect x="711.40" y="966.80" width="7.0" height="122.90" fill="#cccccc"/>
<rect x="708.70" y="963.30" width="12.4" height="7.0" fill="#cccccc"/>
<rect x="708.70" y="1086.20" width="12.4" height="7.0" fill="#cccccc"/>
<polyline points="257.5,904.1 498.1,925.0 738.9,1008.4" fill="none" stroke="#333333" stroke-width="7.0" stroke-linejoin="round"/>
<polyline points="233.1,915.0 474.0,949.8 714.9,1028.3" fill="none" stroke="#cccccc" stroke-width="7.0" stroke-linejoin="round"/>
<circle cx="257.5" cy="904.1" r="6.7" fill="#333333"/>
<circle cx="498.1" cy="925.0" r="6.7" fill="#333333"/>
<circle cx="738.9" cy="1008.4" r="6.7" fill="#333333"/>
<circle cx="233.1" cy="915.0" r="6.7" fill="#cccccc"/>
<circle cx="474.0" cy="949.8" r="6.7" fill="#cccccc"/>
<circle cx="714.9" cy="1028.3" r="6.7" fill="#cccccc"/>
<rect x="99.25" y="703.1" width="3.5" height="521.95" fill="#000"/>
<rect x="99.25" y="1221.55" width="771.75" height="3.5" fill="#000"/>
<rect x="243.55" y="1223.30" width="3.5" height="6" fill="#000"/>
<text x="250.7" y="1254.3" class="xt">40%</text>
<rect x="483.95" y="1223.30" width="3.5" height="6" fill="#000"/>
<text x="488.9" y="1254.3" class="xt">50%</text>
<rect x="725.15" y="1223.30" width="3.5" height="6" fill="#000"/>
<text x="728.8" y="1254.3" class="xt">60%</text>
<rect x="94.75" y="810.15" width="5" height="3.5" fill="#000"/>
<text x="88.2" y="820.9" class="yt">150</text>
<rect x="94.75" y="979.05" width="5" height="3.5" fill="#000"/>
<text x="88.2" y="989.8" class="yt">100</text>
<rect x="94.75" y="1148.05" width="5" height="3.5" fill="#000"/>
<text x="88.2" y="1158.8" class="yt">50</text>
</g>
<g id="panelD">
<circle cx="1175.8" cy="750.4" r="5.3" fill="#333333"/>
<circle cx="1089.2" cy="773.2" r="5.3" fill="#333333"/>
<circle cx="1135.4" cy="805.9" r="5.3" fill="#333333"/>
<circle cx="1092.5" cy="820.3" r="5.3" fill="#333333"/>
<circle cx="1122.4" cy="824.1" r="5.3" fill="#333333"/>
<circle cx="1133.0" cy="838.8" r="5.3" fill="#333333"/>
<circle cx="1169.2" cy="851.8" r="5.3" fill="#333333"/>
<circle cx="1115.0" cy="866.1" r="5.3" fill="#333333"/>
<circle cx="1116.6" cy="873.1" r="5.3" fill="#333333"/>
<circle cx="1148.0" cy="901.0" r="5.3" fill="#333333"/>
<circle cx="1172.7" cy="904.3" r="5.3" fill="#333333"/>
<circle cx="1178.9" cy="908.6" r="5.3" fill="#333333"/>
<circle cx="1134.5" cy="909.2" r="5.3" fill="#333333"/>
<circle cx="1127.4" cy="929.6" r="5.3" fill="#333333"/>
<circle cx="1139.0" cy="929.0" r="5.3" fill="#333333"/>
<circle cx="1096.2" cy="944.5" r="5.3" fill="#333333"/>
<circle cx="1096.9" cy="956.2" r="5.3" fill="#333333"/>
<circle cx="1169.0" cy="952.1" r="5.3" fill="#333333"/>
<circle cx="1175.2" cy="967.8" r="5.3" fill="#333333"/>
<circle cx="1138.8" cy="973.7" r="5.3" fill="#333333"/>
<circle cx="1084.9" cy="983.8" r="5.3" fill="#333333"/>
<circle cx="1122.7" cy="990.4" r="5.3" fill="#333333"/>
<circle cx="1175.4" cy="993.2" r="5.3" fill="#333333"/>
<circle cx="1143.3" cy="999.6" r="5.3" fill="#333333"/>
<circle cx="1107.7" cy="1018.7" r="5.3" fill="#333333"/>
<circle cx="1148.6" cy="1019.3" r="5.3" fill="#333333"/>
<circle cx="1161.3" cy="1067.2" r="5.3" fill="#333333"/>
<circle cx="1097.5" cy="1088.3" r="5.3" fill="#333333"/>
<circle cx="1104.5" cy="1113.5" r="5.3" fill="#333333"/>
<circle cx="1145.7" cy="1191.1" r="5.3" fill="#333333"/>
<circle cx="1394.4" cy="726.4" r="5.3" fill="#333333"/>
<circle cx="1351.0" cy="749.2" r="5.3" fill="#333333"/>
<circle cx="1355.7" cy="814.8" r="5.3" fill="#333333"/>
<circle cx="1398.8" cy="845.4" r="5.3" fill="#333333"/>
<circle cx="1425.3" cy="865.0" r="5.3" fill="#333333"/>
<circle cx="1367.1" cy="884.8" r="5.3" fill="#333333"/>
<circle cx="1370.1" cy="892.6" r="5.3" fill="#333333"/>
<circle cx="1369.5" cy="901.9" r="5.3" fill="#333333"/>
<circle cx="1362.7" cy="906.8" r="5.3" fill="#333333"/>
<circle cx="1410.8" cy="917.3" r="5.3" fill="#333333"/>
<circle cx="1393.6" cy="924.7" r="5.3" fill="#333333"/>
<circle cx="1376.1" cy="930.8" r="5.3" fill="#333333"/>
<circle cx="1359.0" cy="945.6" r="5.3" fill="#333333"/>
<circle cx="1334.0" cy="951.2" r="5.3" fill="#333333"/>
<circle cx="1381.2" cy="956.7" r="5.3" fill="#333333"/>
<circle cx="1399.1" cy="961.7" r="5.3" fill="#333333"/>
<circle cx="1410.6" cy="970.9" r="5.3" fill="#333333"/>
<circle cx="1371.4" cy="985.7" r="5.3" fill="#333333"/>
<circle cx="1388.6" cy="985.7" r="5.3" fill="#333333"/>
<circle cx="1411.8" cy="983.9" r="5.3" fill="#333333"/>
<circle cx="1382.7" cy="996.8" r="5.3" fill="#333333"/>
<circle cx="1345.2" cy="1000.2" r="5.3" fill="#333333"/>
<circle cx="1414.8" cy="997.4" r="5.3" fill="#333333"/>
<circle cx="1414.8" cy="1010.5" r="5.3" fill="#333333"/>
<circle cx="1359.7" cy="1030.2" r="5.3" fill="#333333"/>
<circle cx="1407.8" cy="1038.8" r="5.3" fill="#333333"/>
<circle cx="1355.7" cy="1048.7" r="5.3" fill="#333333"/>
<circle cx="1398.5" cy="1141.2" r="5.3" fill="#333333"/>
<circle cx="1649.0" cy="766.6" r="5.3" fill="#333333"/>
<circle cx="1619.1" cy="830.8" r="5.3" fill="#333333"/>
<circle cx="1620.9" cy="867.5" r="5.3" fill="#333333"/>
<circle cx="1633.6" cy="865.5" r="5.3" fill="#333333"/>
<circle cx="1634.8" cy="914.1" r="5.3" fill="#333333"/>
<circle cx="1661.0" cy="980.1" r="5.3" fill="#333333"/>
<circle cx="1579.6" cy="990.0" r="5.3" fill="#333333"/>
<circle cx="1616.3" cy="986.9" r="5.3" fill="#333333"/>
<circle cx="1619.8" cy="994.3" r="5.3" fill="#333333"/>
<circle cx="1631.7" cy="999.8" r="5.3" fill="#333333"/>
<circle cx="1644.7" cy="1000.1" r="5.3" fill="#333333"/>
<circle cx="1651.8" cy="1005.1" r="5.3" fill="#333333"/>
<circle cx="1661.6" cy="999.6" r="5.3" fill="#333333"/>
<circle cx="1617.5" cy="1012.1" r="5.3" fill="#333333"/>
<circle cx="1578.1" cy="1021.4" r="5.3" fill="#333333"/>
<circle cx="1592.6" cy="1023.2" r="5.3" fill="#333333"/>
<circle cx="1618.8" cy="1029.4" r="5.3" fill="#333333"/>
<circle cx="1574.4" cy="1033.7" r="5.3" fill="#333333"/>
<circle cx="1599.4" cy="1061.6" r="5.3" fill="#333333"/>
<circle cx="1644.1" cy="1057.9" r="5.3" fill="#333333"/>
<circle cx="1650.2" cy="1059.5" r="5.3" fill="#333333"/>
<circle cx="1610.1" cy="1070.2" r="5.3" fill="#333333"/>
<circle cx="1616.9" cy="1086.2" r="5.3" fill="#333333"/>
<circle cx="1633.6" cy="1080.1" r="5.3" fill="#333333"/>
<circle cx="1639.1" cy="1092.4" r="5.3" fill="#333333"/>
<circle cx="1625.9" cy="1102.6" r="5.3" fill="#333333"/>
<circle cx="1624.3" cy="1119.5" r="5.3" fill="#333333"/>
<circle cx="1669.1" cy="1123.2" r="5.3" fill="#333333"/>
<circle cx="1612.6" cy="1161.1" r="5.3" fill="#333333"/>
<circle cx="1622.2" cy="1199.7" r="5.3" fill="#333333"/>
<circle cx="1115.6" cy="910.0" r="5.3" fill="#cccccc"/>
<circle cx="1123.0" cy="915.8" r="5.3" fill="#cccccc"/>
<circle cx="1164.4" cy="913.9" r="5.3" fill="#cccccc"/>
<circle cx="1159.7" cy="919.2" r="5.3" fill="#cccccc"/>
<circle cx="1098.7" cy="925.3" r="5.3" fill="#cccccc"/>
<circle cx="1175.2" cy="946.0" r="5.3" fill="#cccccc"/>
<circle cx="1140.0" cy="960.5" r="5.3" fill="#cccccc"/>
<circle cx="1104.9" cy="977.8" r="5.3" fill="#cccccc"/>
<circle cx="1153.3" cy="983.3" r="5.3" fill="#cccccc"/>
<circle cx="1117.8" cy="993.4" r="5.3" fill="#cccccc"/>
<circle cx="1134.5" cy="1003.7" r="5.3" fill="#cccccc"/>
<circle cx="1085.8" cy="1005.2" r="5.3" fill="#cccccc"/>
<circle cx="1090.7" cy="1005.2" r="5.3" fill="#cccccc"/>
<circle cx="1156.0" cy="1003.9" r="5.3" fill="#cccccc"/>
<circle cx="1161.0" cy="1007.0" r="5.3" fill="#cccccc"/>
<circle cx="1178.6" cy="1016.3" r="5.3" fill="#cccccc"/>
<circle cx="1112.9" cy="1031.2" r="5.3" fill="#cccccc"/>
<circle cx="1124.6" cy="1033.0" r="5.3" fill="#cccccc"/>
<circle cx="1162.0" cy="1042.3" r="5.3" fill="#cccccc"/>
<circle cx="1103.3" cy="1055.5" r="5.3" fill="#cccccc"/>
<circle cx="1159.7" cy="1059.9" r="5.3" fill="#cccccc"/>
<circle cx="1135.3" cy="1069.8" r="5.3" fill="#cccccc"/>
<circle cx="1095.6" cy="1077.4" r="5.3" fill="#cccccc"/>
<circle cx="1103.3" cy="1096.8" r="5.3" fill="#cccccc"/>
<circle cx="1133.8" cy="1092.6" r="5.3" fill="#cccccc"/>
<circle cx="1156.3" cy="1089.4" r="5.3" fill="#cccccc"/>
<circle cx="1155.1" cy="1098.7" r="5.3" fill="#cccccc"/>
<circle cx="1127.4" cy="1105.8" r="5.3" fill="#cccccc"/>
<circle cx="1155.4" cy="1109.8" r="5.3" fill="#cccccc"/>
<circle cx="1141.2" cy="1139.7" r="5.3" fill="#cccccc"/>
<circle cx="1170.5" cy="1148.6" r="5.3" fill="#cccccc"/>
<circle cx="1413.3" cy="858.6" r="5.3" fill="#cccccc"/>
<circle cx="1356.6" cy="900.0" r="5.3" fill="#cccccc"/>
<circle cx="1358.7" cy="913.2" r="5.3" fill="#cccccc"/>
<circle cx="1367.7" cy="915.4" r="5.3" fill="#cccccc"/>
<circle cx="1418.2" cy="932.3" r="5.3" fill="#cccccc"/>
<circle cx="1357.6" cy="939.5" r="5.3" fill="#cccccc"/>
<circle cx="1415.5" cy="944.4" r="5.3" fill="#cccccc"/>
<circle cx="1400.0" cy="979.3" r="5.3" fill="#cccccc"/>
<circle cx="1369.5" cy="982.6" r="5.3" fill="#cccccc"/>
<circle cx="1410.6" cy="983.2" r="5.3" fill="#cccccc"/>
<circle cx="1332.3" cy="984.5" r="5.3" fill="#cccccc"/>
<circle cx="1331.7" cy="990.6" r="5.3" fill="#cccccc"/>
<circle cx="1426.6" cy="996.8" r="5.3" fill="#cccccc"/>
<circle cx="1401.0" cy="1010.9" r="5.3" fill="#cccccc"/>
<circle cx="1333.2" cy="1014.2" r="5.3" fill="#cccccc"/>
<circle cx="1334.4" cy="1027.7" r="5.3" fill="#cccccc"/>
<circle cx="1375.1" cy="1024.0" r="5.3" fill="#cccccc"/>
<circle cx="1376.9" cy="1033.9" r="5.3" fill="#cccccc"/>
<circle cx="1372.0" cy="1046.9" r="5.3" fill="#cccccc"/>
<circle cx="1381.2" cy="1047.8" r="5.3" fill="#cccccc"/>
<circle cx="1355.4" cy="1054.3" r="5.3" fill="#cccccc"/>
<circle cx="1334.4" cy="1054.6" r="5.3" fill="#cccccc"/>
<circle cx="1383.1" cy="1076.7" r="5.3" fill="#cccccc"/>
<circle cx="1338.7" cy="1078.9" r="5.3" fill="#cccccc"/>
<circle cx="1339.9" cy="1090.0" r="5.3" fill="#cccccc"/>
<circle cx="1335.0" cy="1102.3" r="5.3" fill="#cccccc"/>
<circle cx="1402.0" cy="1102.3" r="5.3" fill="#cccccc"/>
<circle cx="1426.6" cy="1103.9" r="5.3" fill="#cccccc"/>
<circle cx="1334.4" cy="1118.1" r="5.3" fill="#cccccc"/>
<circle cx="1393.8" cy="1141.8" r="5.3" fill="#cccccc"/>
<circle cx="1609.2" cy="914.1" r="5.3" fill="#cccccc"/>
<circle cx="1639.1" cy="976.4" r="5.3" fill="#cccccc"/>
<circle cx="1640.4" cy="983.8" r="5.3" fill="#cccccc"/>
<circle cx="1644.7" cy="988.7" r="5.3" fill="#cccccc"/>
<circle cx="1604.6" cy="1002.3" r="5.3" fill="#cccccc"/>
<circle cx="1614.5" cy="1006.6" r="5.3" fill="#cccccc"/>
<circle cx="1631.1" cy="1004.1" r="5.3" fill="#cccccc"/>
<circle cx="1583.3" cy="1021.0" r="5.3" fill="#cccccc"/>
<circle cx="1626.5" cy="1023.9" r="5.3" fill="#cccccc"/>
<circle cx="1621.2" cy="1033.7" r="5.3" fill="#cccccc"/>
<circle cx="1635.4" cy="1032.5" r="5.3" fill="#cccccc"/>
<circle cx="1590.4" cy="1044.5" r="5.3" fill="#cccccc"/>
<circle cx="1644.7" cy="1046.5" r="5.3" fill="#cccccc"/>
<circle cx="1642.2" cy="1067.7" r="5.3" fill="#cccccc"/>
<circle cx="1586.1" cy="1071.4" r="5.3" fill="#cccccc"/>
<circle cx="1628.6" cy="1076.4" r="5.3" fill="#cccccc"/>
<circle cx="1580.6" cy="1085.6" r="5.3" fill="#cccccc"/>
<circle cx="1576.2" cy="1087.5" r="5.3" fill="#cccccc"/>
<circle cx="1617.5" cy="1111.3" r="5.3" fill="#cccccc"/>
<circle cx="1626.2" cy="1122.0" r="5.3" fill="#cccccc"/>
<circle cx="1607.1" cy="1133.5" r="5.3" fill="#cccccc"/>
<circle cx="1586.5" cy="1140.5" r="5.3" fill="#cccccc"/>
<circle cx="1626.2" cy="1149.7" r="5.3" fill="#cccccc"/>
<circle cx="1621.2" cy="1158.4" r="5.3" fill="#cccccc"/>
<circle cx="1652.1" cy="1147.3" r="5.3" fill="#cccccc"/>
<circle cx="1600.0" cy="1161.5" r="5.3" fill="#cccccc"/>
<circle cx="1586.5" cy="1168.2" r="5.3" fill="#cccccc"/>
<circle cx="1626.2" cy="1177.9" r="5.3" fill="#cccccc"/>
<rect x="1141.50" y="840.20" width="7.0" height="202.00" fill="#333333"/>
<rect x="1138.80" y="836.70" width="12.4" height="7.0" fill="#333333"/>
<rect x="1138.80" y="1038.70" width="12.4" height="7.0" fill="#333333"/>
<rect x="1386.50" y="859.40" width="7.0" height="169.80" fill="#333333"/>
<rect x="1383.80" y="855.90" width="12.4" height="7.0" fill="#333333"/>
<rect x="1383.80" y="1025.70" width="12.4" height="7.0" fill="#333333"/>
<rect x="1631.50" y="923.80" width="7.0" height="187.70" fill="#333333"/>
<rect x="1628.80" y="920.30" width="12.4" height="7.0" fill="#333333"/>
<rect x="1628.80" y="1108.00" width="12.4" height="7.0" fill="#333333"/>
<rect x="1117.00" y="954.80" width="7.0" height="138.50" fill="#cccccc"/>
<rect x="1114.30" y="951.30" width="12.4" height="7.0" fill="#cccccc"/>
<rect x="1114.30" y="1089.80" width="12.4" height="7.0" fill="#cccccc"/>
<rect x="1362.20" y="944.00" width="7.0" height="140.90" fill="#cccccc"/>
<rect x="1359.50" y="940.50" width="12.4" height="7.0" fill="#cccccc"/>
<rect x="1359.50" y="1081.40" width="12.4" height="7.0" fill="#cccccc"/>
<rect x="1607.40" y="1011.70" width="7.0" height="130.60" fill="#cccccc"/>
<rect x="1604.70" y="1008.20" width="12.4" height="7.0" fill="#cccccc"/>
<rect x="1604.70" y="1138.80" width="12.4" height="7.0" fill="#cccccc"/>
<polyline points="1145.0,941.2 1390.0,944.2 1635.0,1017.7" fill="none" stroke="#333333" stroke-width="7.0" stroke-linejoin="round"/>
<polyline points="1120.5,1023.8 1365.7,1013.6 1610.9,1077.0" fill="none" stroke="#cccccc" stroke-width="7.0" stroke-linejoin="round"/>
<circle cx="1145.0" cy="941.2" r="6.7" fill="#333333"/>
<circle cx="1390.0" cy="944.2" r="6.7" fill="#333333"/>
<circle cx="1635.0" cy="1017.7" r="6.7" fill="#333333"/>
<circle cx="1120.5" cy="1023.8" r="6.7" fill="#cccccc"/>
<circle cx="1365.7" cy="1013.6" r="6.7" fill="#cccccc"/>
<circle cx="1610.9" cy="1077.0" r="6.7" fill="#cccccc"/>
<rect x="984.25" y="703.3" width="3.5" height="521.75" fill="#000"/>
<rect x="984.25" y="1221.55" width="785.75" height="3.5" fill="#000"/>
<rect x="1131.05" y="1223.30" width="3.5" height="6" fill="#000"/>
<text x="1135.6" y="1254.3" class="xt">23%</text>
<rect x="1376.25" y="1223.30" width="3.5" height="6" fill="#000"/>
<text x="1381.8" y="1254.3" class="xt">33%</text>
<rect x="1621.15" y="1223.30" width="3.5" height="6" fill="#000"/>
<text x="1623.6" y="1254.3" class="xt">43%</text>
<rect x="979.75" y="706.00" width="5" height="3.5" fill="#000"/>
<text x="973.4" y="716.8" class="yt">80</text>
<rect x="979.75" y="795.75" width="5" height="3.5" fill="#000"/>
<text x="973.4" y="806.5" class="yt">70</text>
<rect x="979.75" y="885.50" width="5" height="3.5" fill="#000"/>
<text x="973.4" y="896.2" class="yt">60</text>
<rect x="979.75" y="975.25" width="5" height="3.5" fill="#000"/>
<text x="973.4" y="986.0" class="yt">50</text>
<rect x="979.75" y="1065.00" width="5" height="3.5" fill="#000"/>
<text x="973.4" y="1075.8" class="yt">40</text>
<rect x="979.75" y="1154.75" width="5" height="3.5" fill="#000"/>
<text x="973.4" y="1165.5" class="yt">30</text>
</g>

<text transform="translate(62.6,29.2) scale(0.89,1)" class="pl">A</text>
<text transform="translate(961.4,29.3) scale(0.86,1)" class="pl">B</text>
<text transform="translate(61.4,674.6) scale(0.89,1)" class="pl">C</text>
<text transform="translate(961.2,675.3) scale(1.03,1)" class="pl">D</text>
<text x="113.4" y="54.2" class="st">Thigh</text>
<text x="1010.6" y="54.2" class="st">Calf</text>
<text x="113.2" y="695.9" class="st">Thigh</text>
<text x="1010.7" y="695.9" class="st">Calf</text>
<text x="122.3" y="194.5" class="pv">p=0.003</text>
<text x="1010.4" y="128.5" class="pv">p=0.007</text>
<text x="122.1" y="762.7" class="pv">p=0.36</text>
<text x="1011.1" y="762.6" class="pv">p=0.001</text>
<text transform="translate(29.5,294.3) rotate(-90)" class="yl">Fat fraction (%)</text>
<text transform="translate(928.5,294.3) rotate(-90)" class="yl">Fat fraction (%)</text>
<text transform="translate(30.1,921.5) rotate(-90)" class="yl">Contractile Cross-sectional area (mm<tspan dy="-11">2</tspan><tspan dy="11">)</tspan></text>
<text transform="translate(928.6,921.5) rotate(-90)" class="yl">Contractile Cross-sectional area (mm<tspan dy="-11">2</tspan><tspan dy="11">)</tspan></text>
<rect x="122.2" y="109.2" width="28.7" height="7.2" fill="#cccccc"/>
<circle cx="136.5" cy="112.8" r="6.8" fill="#cccccc"/>
<rect x="122.2" y="145.3" width="28.7" height="7.2" fill="#333333"/>
<circle cx="136.5" cy="148.9" r="6.8" fill="#333333"/>
<text x="167.0" y="120.6" class="lg">control</text>
<text x="167.2" y="156.5" class="lg">patient</text>

</svg>
</body></html>
